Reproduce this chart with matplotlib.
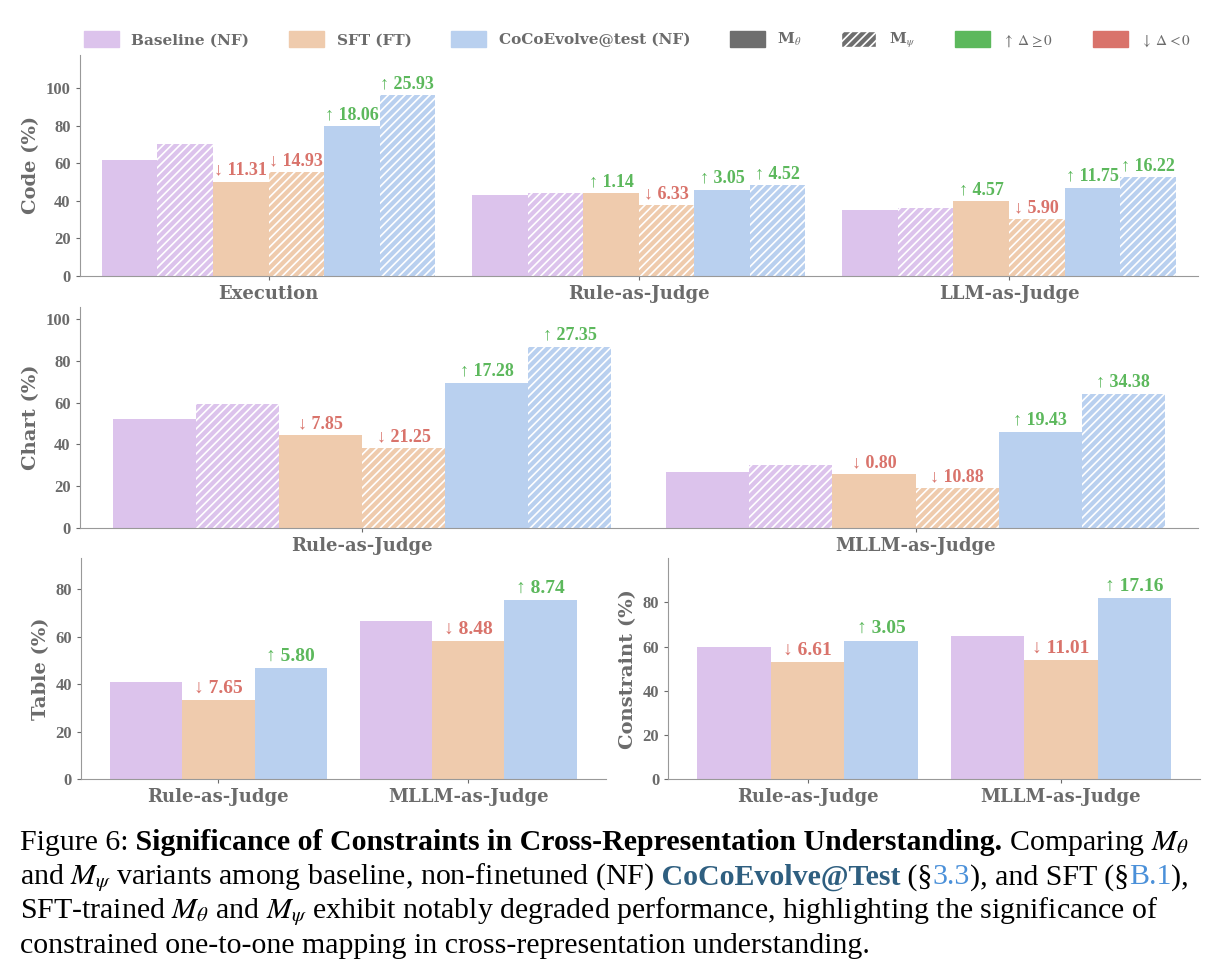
import numpy as np
import matplotlib
matplotlib.use("Agg")
import matplotlib.pyplot as plt
from matplotlib.patches import Patch

plt.rcParams['mathtext.fontset'] = 'stix'

# ---- data ----
code_groups = ["Execution", "Rule-as-Judge", "LLM-as-Judge"]
code_base = [61.5, 42.9, 35.2]
code_base_psi = [70.3, 44.0, 36.3]
code_sft = [50.2, 44.0, 39.8]
code_sft_psi = [55.4, 37.7, 30.4]
code_coco = [79.6, 45.9, 47.0]
code_coco_psi = [96.2, 48.5, 52.5]
code_d_sft = [-11.31, 1.14, 4.57]
code_d_sft_psi = [-14.93, -6.33, -5.90]
code_d_coco = [18.06, 3.05, 11.75]
code_d_coco_psi = [25.93, 4.52, 16.22]

chart_groups = ["Rule-as-Judge", "MLLM-as-Judge"]
chart_base = [52.3, 26.6]
chart_base_psi = [59.4, 30.0]
chart_sft = [44.5, 25.8]
chart_sft_psi = [38.2, 19.1]
chart_coco = [69.6, 46.0]
chart_coco_psi = [86.8, 64.4]
chart_d_sft = [-7.85, -0.80]
chart_d_sft_psi = [-21.25, -10.88]
chart_d_coco = [17.28, 19.43]
chart_d_coco_psi = [27.35, 34.38]

table_groups = ["Rule-as-Judge", "MLLM-as-Judge"]
table_base = [41.0, 66.5]
table_sft = [33.3, 58.0]
table_coco = [46.8, 75.2]
table_d_sft = [-7.65, -8.48]
table_d_coco = [5.80, 8.74]

cons_groups = ["Rule-as-Judge", "MLLM-as-Judge"]
cons_base = [59.6, 64.7]
cons_sft = [53.0, 53.7]
cons_coco = [62.7, 81.9]
cons_d_sft = [-6.61, -11.01]
cons_d_coco = [3.05, 17.16]

PURPLE, PEACH, BLUE = "#dcc3ec", "#efcbad", "#b9d0ef"
GREEN, RED = "#5cb85c", "#d9736b"
GRAY = "#6b6b6b"
SERIF = "Liberation Serif"
WIDE = "DejaVu Serif"

fig = plt.figure(figsize=(12.26, 9.74), dpi=100)


def style(ax, ylabel, ylim, ticks):
    ax.set_ylim(0, ylim)
    ax.set_yticks(ticks)
    for s in ("top", "right"):
        ax.spines[s].set_visible(False)
    for s in ("left", "bottom"):
        ax.spines[s].set_color("#999999")
    ax.tick_params(colors=GRAY, length=3)
    ax.set_ylabel(ylabel, fontfamily=WIDE, fontweight="bold", fontsize=14, color=GRAY)
    for lab in ax.get_yticklabels():
        lab.set_fontfamily(SERIF); lab.set_fontweight("bold"); lab.set_fontsize(12)


def label(ax, x, h, d, fs=13):
    arrow = "\u2191" if d >= 0 else "\u2193"
    ax.text(x, h + 1.5, f"{arrow} {abs(d):.2f}", ha="center", va="bottom",
            color=GREEN if d >= 0 else RED, fontfamily=SERIF, fontweight="bold", fontsize=fs)


def six_bars(ax, groups, series, deltas):
    x = np.arange(len(groups))
    w = 0.15
    colors = [PURPLE, PURPLE, PEACH, PEACH, BLUE, BLUE]
    for i, (vals, c) in enumerate(zip(series, colors)):
        pos = x + (i - 2.5) * w
        hatch = "////" if i % 2 else None
        ax.bar(pos, vals, w, color=c, edgecolor="white" if hatch else c, hatch=hatch, linewidth=0)
        if i >= 2:
            for p, v, d in zip(pos, vals, deltas[i - 2]):
                label(ax, p, v, d)
    ax.set_xticks(x)
    ax.set_xticklabels(groups, fontfamily=WIDE, fontweight="bold", fontsize=13, color=GRAY)
    ax.set_xlim(-0.51, len(groups) - 0.49)


def three_bars(ax, groups, series, deltas):
    x = np.arange(len(groups))
    w = 0.29
    for i, (vals, c) in enumerate(zip(series, [PURPLE, PEACH, BLUE])):
        pos = x + (i - 1) * w
        ax.bar(pos, vals, w, color=c, linewidth=0)
        if i >= 1:
            for p, v, d in zip(pos, vals, deltas[i - 1]):
                label(ax, p, v, d, fs=14)
    ax.set_xticks(x)
    ax.set_xticklabels(groups, fontfamily=WIDE, fontweight="bold", fontsize=13, color=GRAY)
    ax.set_xlim(-0.55, len(groups) - 0.45)


plt.rcParams['hatch.linewidth'] = 1.2

ax1 = fig.add_axes([0.065, 0.717, 0.912, 0.227])
six_bars(ax1, code_groups,
         [code_base, code_base_psi, code_sft, code_sft_psi, code_coco, code_coco_psi],
         [code_d_sft, code_d_sft_psi, code_d_coco, code_d_coco_psi])
style(ax1, "Code (%)", 118, [0, 20, 40, 60, 80, 100])

ax2 = fig.add_axes([0.065, 0.458, 0.912, 0.227])
six_bars(ax2, chart_groups,
         [chart_base, chart_base_psi, chart_sft, chart_sft_psi, chart_coco, chart_coco_psi],
         [chart_d_sft, chart_d_sft_psi, chart_d_coco, chart_d_coco_psi])
style(ax2, "Chart (%)", 106, [0, 20, 40, 60, 80, 100])

ax3 = fig.add_axes([0.066, 0.2, 0.428, 0.227])
three_bars(ax3, table_groups, [table_base, table_sft, table_coco], [table_d_sft, table_d_coco])
style(ax3, "Table (%)", 93, [0, 20, 40, 60, 80])

ax4 = fig.add_axes([0.545, 0.2, 0.434, 0.227])
three_bars(ax4, cons_groups, [cons_base, cons_sft, cons_coco], [cons_d_sft, cons_d_coco])
style(ax4, "Constraint (%)", 100, [0, 20, 40, 60, 80])

handles = [Patch(color=PURPLE, label="Baseline (NF)"),
           Patch(color=PEACH, label="SFT (FT)"),
           Patch(color=BLUE, label="CoCoEvolve@test (NF)"),
           Patch(color="#6e6e6e", label=r"M$_\theta$"),
           Patch(facecolor="#6e6e6e", edgecolor="white", hatch="////", label=r"M$_\psi$"),
           Patch(color=GREEN, label=r"$\uparrow\ \Delta \geq 0$"),
           Patch(color=RED, label=r"$\downarrow\ \Delta < 0$")]
leg = fig.legend(handles=handles, loc="center", bbox_to_anchor=(0.52, 0.958), ncol=7, frameon=False,
                 prop={"family": WIDE, "weight": "bold", "size": 11}, handlelength=2.3,
                 handleheight=1.2, columnspacing=2.6)
for t in leg.get_texts():
    t.set_color(GRAY)

# caption
fig.canvas.draw()
renderer = fig.canvas.get_renderer()
W = fig.bbox.width
CAP = "Liberation Serif"


def line(y, parts):
    x = 0.016
    for txt, kw in parts:
        t = fig.text(x, y, txt, fontfamily=CAP, fontsize=21.5, va="baseline", **kw)
        x += t.get_window_extent(renderer).width / W


B = {"fontweight": "bold"}
N = {}
line(0.127, [("Figure 6:", N),
             (" Significance of Constraints in Cross-Representation Understanding.", B),
             (r" Comparing $M_\theta$", N)])
line(0.092, [(r"and $M_\psi$ variants among baseline, non-finetuned (NF)", N),
             (" CoCoEvolve@Test", {"fontweight": "bold", "color": "#2f5f80"}),
             (" (\u00a7", N), ("3.3", {"color": "#4a90d9"}), ("), and SFT (\u00a7", N),
             ("B.1", {"color": "#4a90d9"}), ("),", N)])
line(0.057, [(r"SFT-trained $M_\theta$ and $M_\psi$ exhibit notably degraded performance, highlighting the significance of", N)])
line(0.022, [("constrained one-to-one mapping in cross-representation understanding.", N)])

fig.savefig("out.png", dpi=100)
